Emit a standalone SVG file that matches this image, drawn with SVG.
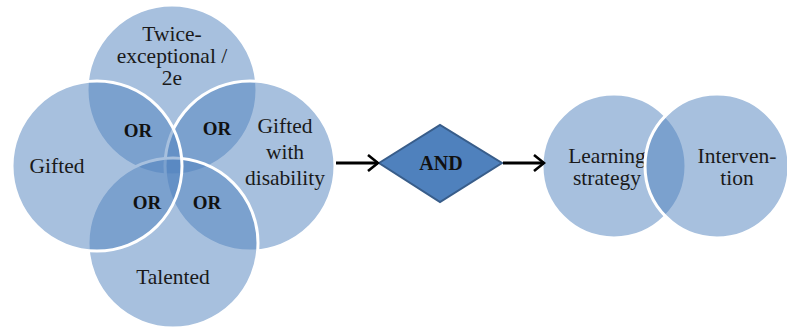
<svg xmlns="http://www.w3.org/2000/svg" width="787" height="327" viewBox="0 0 787 327">
<style>
.c{fill:#4f81bd;fill-opacity:0.5;stroke:#fff;stroke-width:3}
.t{font-size:21.5px;fill:#1a1a1a;text-anchor:middle}
.b{font-size:19px;font-weight:bold;fill:#111;text-anchor:middle}
.ln{stroke:#000;stroke-width:3;fill:none}
</style>
<defs>
<marker id="ah" markerWidth="14" markerHeight="18" refX="12" refY="9" orient="auto" markerUnits="userSpaceOnUse">
<polyline points="2,1 12,9 2,17" fill="none" stroke="#000" stroke-width="2.6"/>
</marker>
</defs>
<rect width="787" height="327" fill="#fff"/>
<g id="twice"><circle class="c" cx="172" cy="90" r="85"/></g>
<g id="gwd"><circle class="c" cx="250" cy="166" r="85"/></g>
<g id="talented"><circle class="c" cx="173" cy="243" r="85"/></g>
<g id="gifted"><circle class="c" cx="97" cy="166" r="85"/></g>
<g id="labels" font-family="Liberation Serif, DejaVu Serif, serif">
<text class="t" x="172" y="41">Twice-</text>
<text class="t" x="172" y="63">exceptional /</text>
<text class="t" x="172" y="85">2e</text>
<text class="t" x="57" y="173">Gifted</text>
<text class="t" x="285" y="133">Gifted</text>
<text class="t" x="285" y="159">with</text>
<text class="t" x="285" y="185">disability</text>
<text class="t" x="173" y="284">Talented</text>
<text class="b" x="138" y="137">OR</text>
<text class="b" x="217" y="135">OR</text>
<text class="b" x="147" y="209">OR</text>
<text class="b" x="207" y="209">OR</text>
</g>
<g id="and" font-family="Liberation Serif, DejaVu Serif, serif">
<polygon points="379,163 440,125 502,163 440,202" fill="#4f81bd" stroke="#385d8a" stroke-width="2"/>
<text class="b" x="441" y="170" style="font-size:20px">AND</text>
</g>
<g id="learning" font-family="Liberation Serif, DejaVu Serif, serif"><circle class="c" cx="614" cy="166" r="72"/>
<text class="t" x="607" y="163">Learning</text>
<text class="t" x="607" y="185">strategy</text></g>
<g id="intervention" font-family="Liberation Serif, DejaVu Serif, serif"><circle class="c" cx="717" cy="166" r="72"/>
<text class="t" x="737" y="163">Interven-</text>
<text class="t" x="737" y="185">tion</text></g>
<g id="connectors">
<line class="ln" x1="336" y1="163" x2="378" y2="163" marker-end="url(#ah)"/>
<line class="ln" x1="503" y1="163" x2="544" y2="163" marker-end="url(#ah)"/>
</g>
</svg>
